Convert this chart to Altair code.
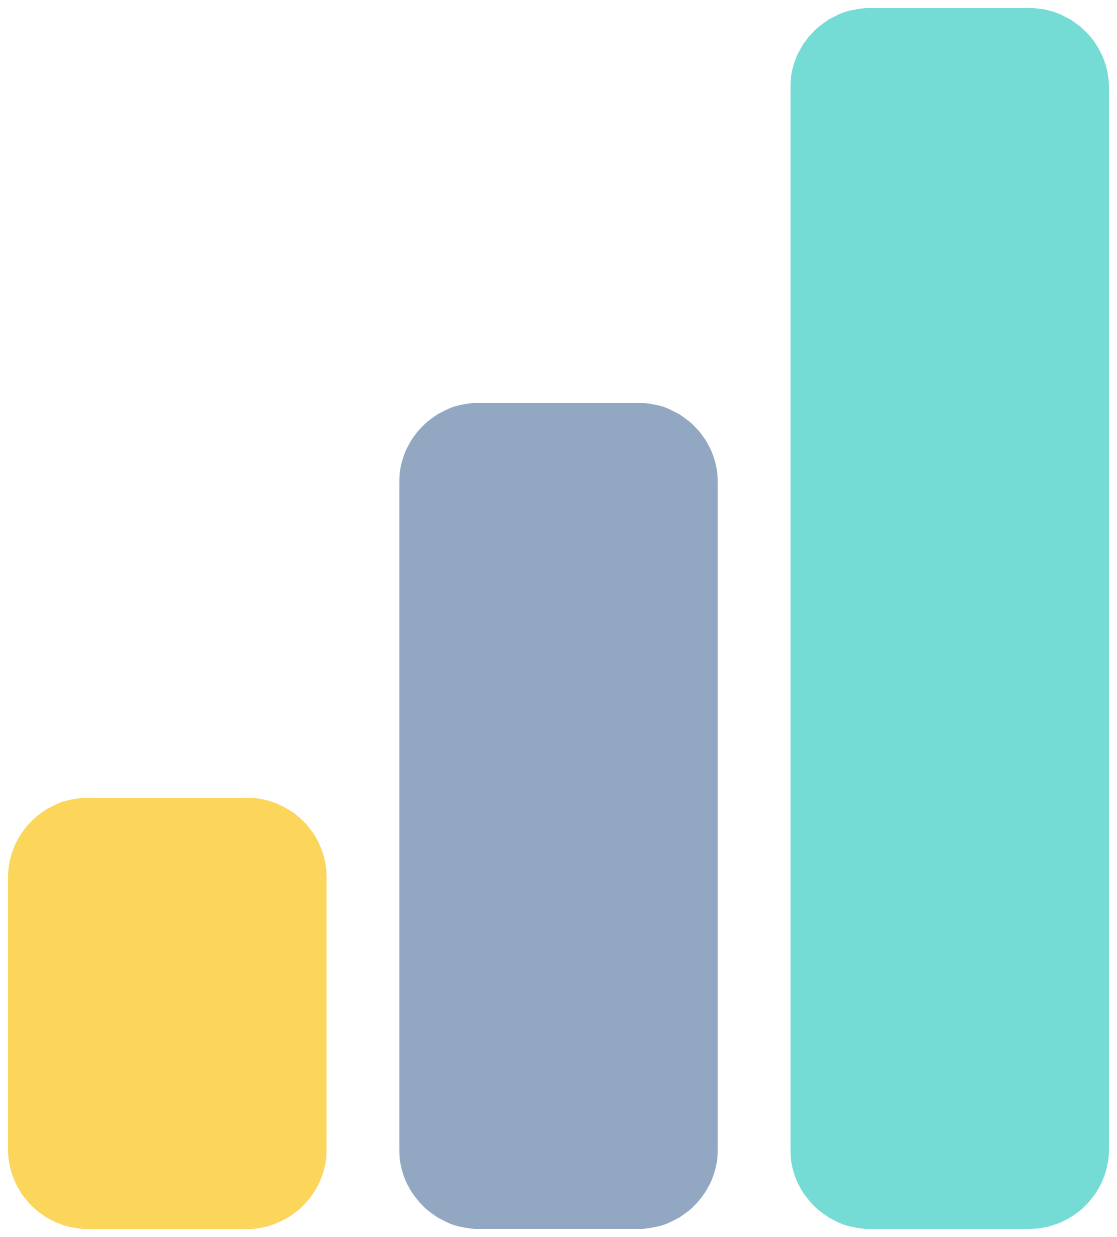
import altair as alt
import pandas as pd

categories = ["A", "B", "C"]
values = [437, 837, 1237]
colors = ["#FBD65A", "#91A7C2", "#75DBD5"]

df = pd.DataFrame({"category": categories, "value": values})

chart = alt.Chart(df).mark_bar(cornerRadius=80).encode(
    x=alt.X("category:N", axis=None,
            scale=alt.Scale(paddingInner=0.185, paddingOuter=0)),
    y=alt.Y("value:Q", axis=None, scale=alt.Scale(domain=[0, 1237], nice=False, zero=True)),
    color=alt.Color("category:N", legend=None,
                    scale=alt.Scale(domain=categories, range=colors)),
).properties(
    width=1101,
    height=1221,
    padding=0,
    autosize=alt.AutoSizeParams(type="fit", contains="padding"),
).configure_view(stroke=None)

chart.save("out.html", embed_options={"renderer": "svg", "actions": False})
